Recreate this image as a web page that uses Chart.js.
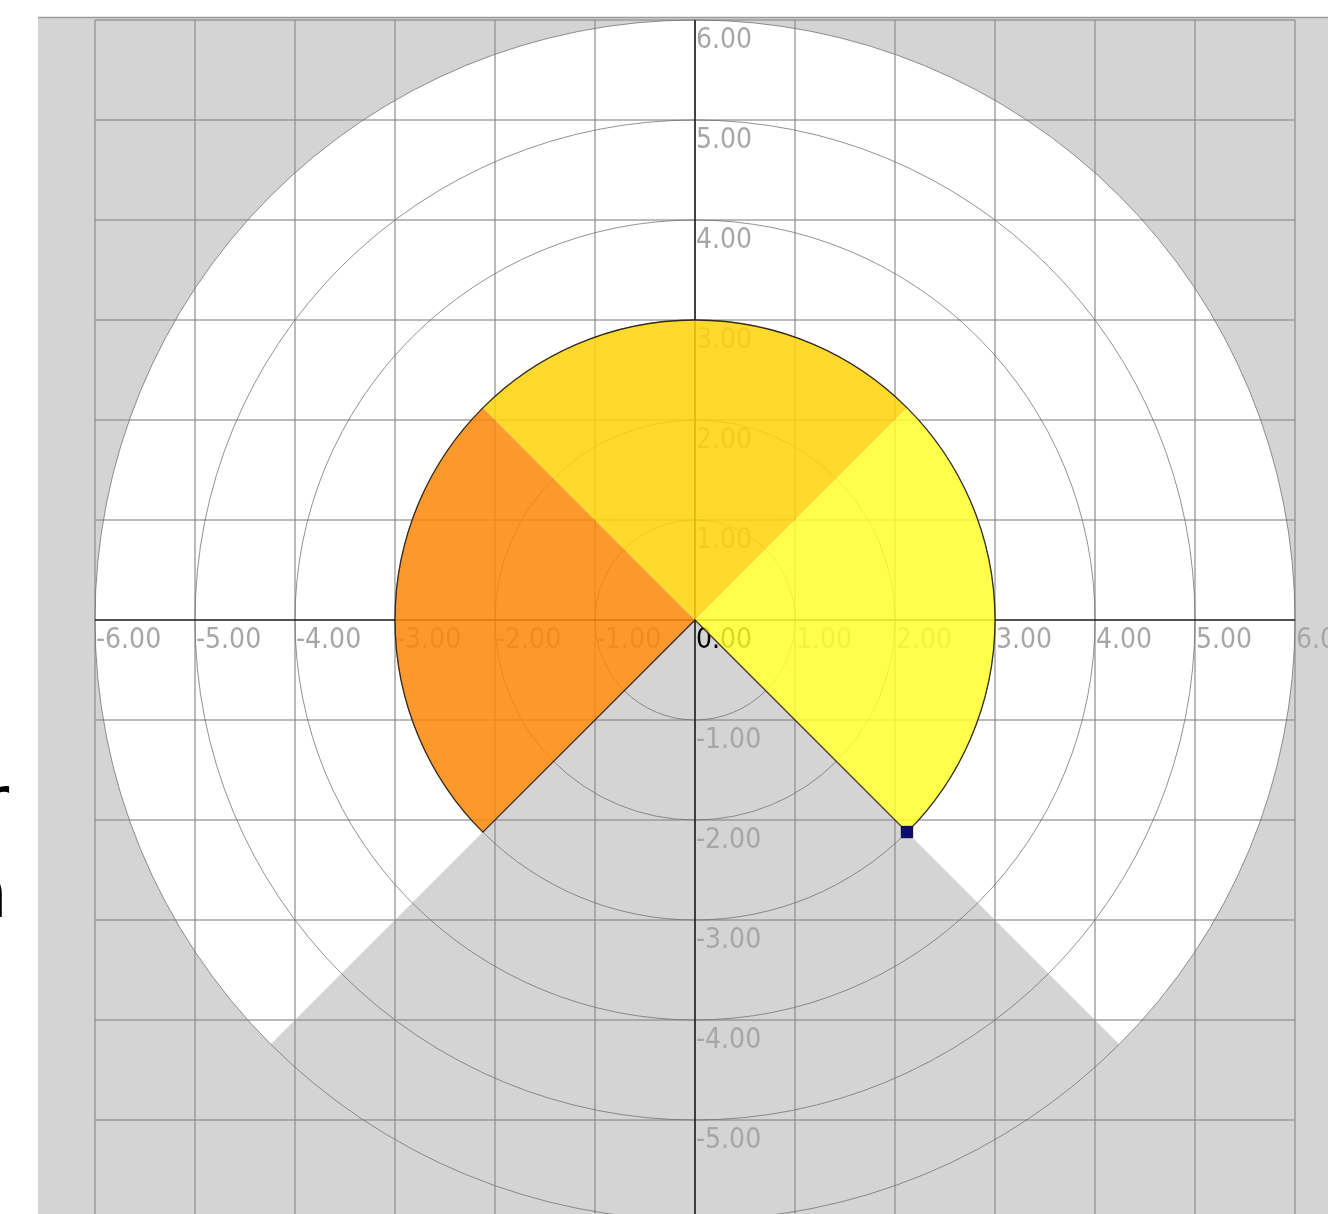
<!DOCTYPE html>
<html>
<head>
<meta charset="utf-8">
<style>
  html, body { margin: 0; padding: 0; background: #ffffff; overflow: hidden; }
  #wrap { position: absolute; left: 0; top: 0; width: 1328px; height: 1214px; }
</style>
<script src="https://cdn.jsdelivr.net/npm/chart.js@4/dist/chart.umd.min.js"></script>
</head>
<body>
<div id="wrap"><canvas id="chart" width="1328" height="1214"></canvas></div>
<script>
// Axis ticks (data units)
const xTicks = [-6, -5, -4, -3, -2, -1, 0, 1, 2, 3, 4, 5, 6];
const yTicks = [-6, -5, -4, -3, -2, -1, 1, 2, 3, 4, 5, 6];
const ringRadii = [1, 2, 3, 4, 5, 6];

// Outer field (white, 270 degrees) in math degrees, counter-clockwise from +x
const fieldStart = [-45];
const fieldEnd = [225];
const fieldRadius = [6];

// Coloured sectors
const sectorStart = [135, 45, -45];
const sectorEnd = [225, 135, 45];
const sectorRadius = [3, 3, 3];
const sectorColors = ['rgba(251,135,7,0.85)', 'rgba(255,211,8,0.85)', 'rgba(255,255,44,0.85)'];

// Marker point
const markerX = [2.12];
const markerY = [-2.12];

// Side text fragments
const sideText = ['r', 'n'];

function rad(d) { return d * Math.PI / 180; }

const polarBackdrop = {
  id: 'polarBackdrop',
  beforeDatasetsDraw(chart) {
    const ctx = chart.ctx;
    const a = chart.chartArea;
    const xs = chart.scales.x, ys = chart.scales.y;
    const cx = xs.getPixelForValue(0), cy = ys.getPixelForValue(0);
    const unit = xs.getPixelForValue(1) - cx;
    const gx0 = xs.getPixelForValue(xTicks[0]), gx1 = xs.getPixelForValue(xTicks[xTicks.length - 1]);
    const gy0 = ys.getPixelForValue(6), gy1 = ys.getPixelForValue(-6);

    ctx.save();
    // plot background
    ctx.fillStyle = '#d4d4d4';
    ctx.fillRect(a.left, a.top, a.right - a.left, a.bottom - a.top);
    ctx.strokeStyle = '#9c9c9c';
    ctx.lineWidth = 1.5;
    ctx.beginPath();
    ctx.moveTo(a.left, a.top + 0.5);
    ctx.lineTo(a.right, a.top + 0.5);
    ctx.stroke();

    ctx.beginPath();
    ctx.rect(a.left, a.top, a.right - a.left, a.bottom - a.top);
    ctx.clip();

    // white field
    ctx.fillStyle = '#ffffff';
    for (let i = 0; i < fieldStart.length; i++) {
      ctx.beginPath();
      ctx.moveTo(cx, cy);
      ctx.arc(cx, cy, fieldRadius[i] * unit, -rad(fieldStart[i]), -rad(fieldEnd[i]), true);
      ctx.closePath();
      ctx.fill();
    }

    // cartesian grid
    ctx.strokeStyle = 'rgba(140,140,140,0.6)';
    ctx.lineWidth = 2;
    xTicks.forEach(v => {
      const px = Math.round(xs.getPixelForValue(v));
      ctx.beginPath();
      ctx.moveTo(px, gy0);
      ctx.lineTo(px, gy1);
      ctx.stroke();
    });
    yTicks.forEach(v => {
      const py = Math.round(ys.getPixelForValue(v));
      ctx.beginPath();
      ctx.moveTo(gx0, py);
      ctx.lineTo(gx1, py);
      ctx.stroke();
    });

    // rings
    ctx.strokeStyle = 'rgba(110,110,110,0.75)';
    ctx.lineWidth = 1;
    ringRadii.forEach(r => {
      ctx.beginPath();
      ctx.arc(cx, cy, r * unit, 0, Math.PI * 2);
      ctx.stroke();
    });

    // axes
    ctx.strokeStyle = '#1a1a1a';
    ctx.lineWidth = 1.5;
    ctx.beginPath();
    ctx.moveTo(gx0, cy);
    ctx.lineTo(gx1, cy);
    ctx.moveTo(cx, gy0);
    ctx.lineTo(cx, gy1);
    ctx.stroke();

    // tick labels
    ctx.font = '28px "DejaVu Sans Condensed", "Liberation Sans", sans-serif';
    ctx.textAlign = 'left';
    ctx.textBaseline = 'alphabetic';
    xTicks.forEach(v => {
      ctx.fillStyle = v === 0 ? '#000000' : '#a6a6a6';
      ctx.fillText(v.toFixed(2), xs.getPixelForValue(v) + 1, cy + 28);
    });
    ctx.fillStyle = '#a6a6a6';
    yTicks.forEach(v => {
      ctx.fillText(v.toFixed(2), cx + 1, ys.getPixelForValue(v) + 28);
    });

    // coloured sectors
    for (let i = 0; i < sectorStart.length; i++) {
      ctx.fillStyle = sectorColors[i];
      ctx.beginPath();
      ctx.moveTo(cx, cy);
      ctx.arc(cx, cy, sectorRadius[i] * unit, -rad(sectorStart[i]), -rad(sectorEnd[i]), true);
      ctx.closePath();
      ctx.fill();
    }

    // outline of the sector group
    const oStart = Math.min(...sectorStart), oEnd = Math.max(...sectorEnd);
    const oR = Math.max(...sectorRadius) * unit;
    ctx.strokeStyle = 'rgba(35,28,20,0.9)';
    ctx.lineWidth = 1.3;
    ctx.beginPath();
    ctx.moveTo(cx, cy);
    ctx.arc(cx, cy, oR, -rad(oStart), -rad(oEnd), true);
    ctx.closePath();
    ctx.stroke();
    ctx.restore();

    // side text fragments
    ctx.save();
    ctx.fillStyle = '#000000';
    ctx.font = '72px "DejaVu Sans"';
    ctx.textAlign = 'right';
    ctx.textBaseline = 'alphabetic';
    ctx.fillText(sideText[0], 9, 826);
    ctx.fillText(sideText[1], 8, 917);
    ctx.restore();
  }
};

new Chart(document.getElementById('chart'), {
  type: 'scatter',
  data: {
    datasets: [{
      data: markerX.map((x, i) => ({ x: x, y: markerY[i] })),
      pointStyle: 'rect',
      pointRadius: 8,
      pointBackgroundColor: '#0c0c78',
      pointBorderColor: '#05053a',
      pointBorderWidth: 1
    }]
  },
  options: {
    responsive: false,
    animation: false,
    devicePixelRatio: 1,
    layout: { autoPadding: false, padding: { left: 38, top: 17, right: 0, bottom: 0 } },
    plugins: { legend: { display: false }, tooltip: { enabled: false } },
    scales: {
      x: { type: 'linear', min: -6.57, max: 6.33, display: false },
      y: { type: 'linear', min: -5.94, max: 6.03, display: false }
    }
  },
  plugins: [polarBackdrop]
});
</script>
</body>
</html>
